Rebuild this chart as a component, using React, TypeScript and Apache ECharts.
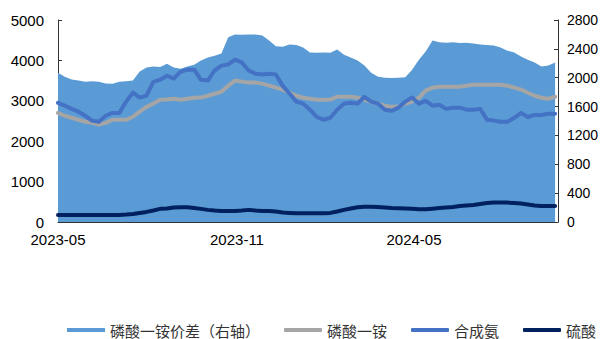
import React, { useEffect, useRef } from "react";
import * as echarts from "echarts";

// Series names (legend order)
const seriesNames = ["磷酸一铵价差（右轴）", "磷酸一铵", "合成氨", "硫酸"];

// x-axis tick labels (year-month)
const xTickLabels = ["2023-05", "2023-11", "2024-05"];

// Axis ranges
const leftAxis = { min: 0, max: 5000, interval: 1000 };
const rightAxis = { min: 0, max: 2800, interval: 400 };

// Weekly observations starting 2023-05-01
const firstWeek = [2023, 4, 1];
const lastDay = [2024, 8, 26];

// 磷酸一铵价差 (right axis)
const spreadValues = [
  2070, 2015, 1975, 1960, 1945, 1950, 1945, 1920, 1915, 1945,
  1950, 1960, 2085, 2140, 2155, 2150, 2195, 2140, 2125, 2155,
  2180, 2240, 2280, 2305, 2335, 2560, 2600, 2595, 2600, 2600,
  2585, 2515, 2435, 2430, 2460, 2455, 2420, 2350, 2345, 2350,
  2345, 2390, 2320, 2280, 2240, 2170, 2070, 2015, 2000, 1995,
  2000, 2005, 2110, 2250, 2365, 2515, 2490, 2485, 2490, 2480,
  2485, 2475, 2460, 2455, 2445, 2420, 2375, 2350, 2295, 2250,
  2210, 2155, 2170, 2210,
];

// 磷酸一铵 (left axis)
const mapValues = [
  2700, 2630, 2580, 2530, 2480, 2455, 2410, 2455, 2530, 2530,
  2530, 2605, 2730, 2850, 2930, 3025, 3030, 3050, 3025, 3050,
  3075, 3080, 3125, 3175, 3225, 3375, 3500, 3475, 3450, 3450,
  3425, 3375, 3325, 3275, 3200, 3125, 3075, 3050, 3025, 3025,
  3030, 3100, 3100, 3100, 3075, 3025, 2975, 2930, 2880, 2850,
  2855, 2930, 2980, 3075, 3250, 3325, 3350, 3350, 3350, 3350,
  3375, 3400, 3400, 3400, 3400, 3395, 3375, 3325, 3275, 3200,
  3125, 3075, 3050, 3100,
];

// 合成氨 (left axis)
const ammoniaValues = [
  2950, 2880, 2800, 2730, 2630, 2510, 2480, 2630, 2700, 2700,
  2980, 3200, 3080, 3130, 3470, 3520, 3620, 3550, 3720, 3770,
  3770, 3520, 3500, 3750, 3870, 3900, 4020, 3950, 3750, 3670,
  3650, 3670, 3650, 3370, 3180, 2980, 2930, 2780, 2600, 2530,
  2580, 2780, 2930, 2950, 2930, 3100, 2980, 2930, 2780, 2750,
  2830, 2980, 3080, 2930, 3000, 2880, 2900, 2800, 2830, 2830,
  2780, 2780, 2800, 2530, 2510, 2480, 2480, 2580, 2700, 2600,
  2650, 2650, 2680, 2680,
];

// 硫酸 (left axis)
const sulfuricValues = [
  175, 175, 175, 175, 175, 175, 175, 175, 175, 175,
  185, 200, 225, 250, 285, 325, 335, 360, 365, 365,
  345, 325, 300, 285, 275, 275, 275, 285, 300, 285,
  275, 275, 260, 235, 225, 215, 215, 215, 215, 215,
  225, 260, 300, 335, 365, 380, 380, 370, 360, 345,
  340, 335, 325, 315, 315, 330, 345, 360, 370, 395,
  410, 420, 445, 470, 480, 480, 480, 470, 460, 435,
  410, 395, 395, 395,
];

const weekDates = spreadValues.map((_, i) =>
  new Date(firstWeek[0], firstWeek[1], firstWeek[2] + 7 * i).getTime()
);

const monthStamp = (label: string) => {
  const [y, m] = label.split("-").map(Number);
  return new Date(y, m - 1, 1).getTime();
};

const pad2 = (n: number) => String(n).padStart(2, "0");

const colors = ["#5B9BD5", "#A5A5A5", "#4472C4", "#002060"];
const axisColor = "#333";
const numFont = "Liberation Sans, Arial, sans-serif";
const cjkFont = "'Noto Sans CJK SC', sans-serif";

export default function App() {
  const ref = useRef<HTMLDivElement>(null);

  useEffect(() => {
    if (!ref.current) return;
    const chart = echarts.init(ref.current, undefined, { renderer: "svg" });
    const pair = (vals: number[]) => weekDates.map((t, i) => [t, vals[i]]);
    const tickStamps = xTickLabels.map(monthStamp);
    const plain = (v: number) => String(v);

    const lineSeries = (idx: number, vals: number[]) => ({
      name: seriesNames[idx],
      type: "line",
      yAxisIndex: 0,
      data: pair(vals),
      symbol: "none",
      smooth: false,
      lineStyle: { width: 4, color: colors[idx], cap: "round", join: "round" },
      itemStyle: { color: colors[idx] },
      z: 2 + idx,
    });

    chart.setOption({
      animation: false,
      grid: {
        left: 58,
        right: 45,
        top: 20,
        bottom: 117,
        containLabel: false,
        outerBoundsMode: "none",
      },
      legend: {
        left: 62,
        top: 316,
        itemWidth: 38,
        itemHeight: 4,
        itemGap: 24,
        textStyle: { fontFamily: cjkFont, fontSize: 15, lineHeight: 18, color: "#333" },
        data: [
          { name: seriesNames[0], icon: "rect" },
          { name: seriesNames[1], icon: "roundRect" },
          { name: seriesNames[2], icon: "roundRect" },
          { name: seriesNames[3], icon: "roundRect" },
        ],
      },
      xAxis: {
        type: "value",
        min: tickStamps[0],
        max: new Date(lastDay[0], lastDay[1], lastDay[2]).getTime(),
        axisLine: { show: true, lineStyle: { color: axisColor, width: 1 } },
        axisTick: {
          show: true,
          inside: true,
          length: 4,
          lineStyle: { color: axisColor },
          customValues: tickStamps,
        },
        axisLabel: {
          customValues: tickStamps,
          margin: 10,
          fontSize: 15,
          fontFamily: numFont,
          color: "#000",
          hideOverlap: false,
          showMinLabel: true,
          formatter: (v: number) => {
            const d = new Date(v);
            return `${d.getFullYear()}-${pad2(d.getMonth() + 1)}`;
          },
        },
        splitLine: { show: false },
      },
      yAxis: [
        {
          type: "value",
          position: "left",
          ...leftAxis,
          axisLine: { show: true, lineStyle: { color: axisColor, width: 1 } },
          axisTick: { show: true, inside: true, length: 4, lineStyle: { color: axisColor } },
          axisLabel: {
            margin: 14,
            fontSize: 15,
            fontFamily: numFont,
            color: "#000",
            formatter: plain,
          },
          splitLine: { show: false },
        },
        {
          type: "value",
          position: "right",
          ...rightAxis,
          axisLine: { show: true, lineStyle: { color: axisColor, width: 1 } },
          axisTick: { show: true, inside: true, length: 4, lineStyle: { color: axisColor } },
          axisLabel: {
            margin: 9,
            fontSize: 14,
            fontFamily: numFont,
            color: "#000",
            formatter: plain,
          },
          splitLine: { show: false },
        },
      ],
      series: [
        {
          name: seriesNames[0],
          type: "line",
          yAxisIndex: 1,
          data: pair(spreadValues),
          symbol: "none",
          lineStyle: { width: 0, color: colors[0] },
          itemStyle: { color: colors[0] },
          areaStyle: { color: colors[0], opacity: 1 },
          z: 1,
        },
        lineSeries(1, mapValues),
        lineSeries(2, ammoniaValues),
        lineSeries(3, sulfuricValues),
      ],
    });

    return () => chart.dispose();
  }, []);

  return (
    <div
      ref={ref}
      style={{ position: "absolute", left: 0, top: 0, width: 603, height: 339 }}
    />
  );
}
